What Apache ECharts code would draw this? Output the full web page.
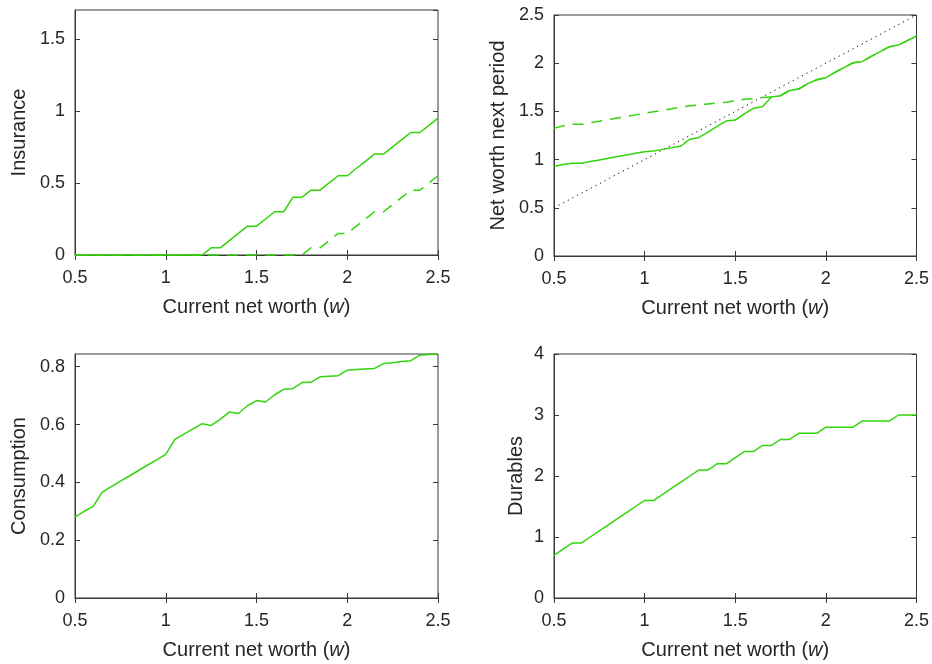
<!DOCTYPE html>
<html>
<head>
<meta charset="utf-8">
<script src="https://cdn.jsdelivr.net/npm/echarts@6/dist/echarts.min.js"></script>
<style>
  html, body { margin: 0; padding: 0; background: #ffffff; }
  #chart { width: 932px; height: 664px; }
</style>
</head>
<body>
<div id="chart"></div>
<script>
// Policy functions on a grid of current net worth w
const wealth = [0.50, 0.55, 0.60, 0.65, 0.70, 0.75, 0.80, 0.85, 0.90, 0.95,
                1.00, 1.05, 1.10, 1.15, 1.20, 1.25, 1.30, 1.35, 1.40, 1.45,
                1.50, 1.55, 1.60, 1.65, 1.70, 1.75, 1.80, 1.85, 1.90, 1.95,
                2.00, 2.05, 2.10, 2.15, 2.20, 2.25, 2.30, 2.35, 2.40, 2.45, 2.50];

const insuranceSolid = [0, 0, 0, 0, 0, 0, 0, 0, 0, 0,
                        0, 0, 0, 0, 0, 0.05, 0.05, 0.10, 0.15, 0.20,
                        0.20, 0.25, 0.30, 0.30, 0.40, 0.40, 0.45, 0.45, 0.50, 0.55,
                        0.55, 0.60, 0.65, 0.70, 0.70, 0.75, 0.80, 0.85, 0.85, 0.90, 0.95];
const insuranceDashed = [0, 0, 0, 0, 0, 0, 0, 0, 0, 0,
                         0, 0, 0, 0, 0, 0, 0, 0, 0, 0,
                         0, 0, 0, 0, 0, 0, 0.05, 0.05, 0.10, 0.15,
                         0.15, 0.20, 0.25, 0.30, 0.30, 0.35, 0.40, 0.45, 0.45, 0.50, 0.55];

const nextWorthSolid = [0.930, 0.950, 0.961, 0.963, 0.980, 0.997, 1.014, 1.031, 1.048, 1.065,
                        1.082, 1.089, 1.106, 1.123, 1.141, 1.212, 1.230, 1.285, 1.345, 1.400,
                        1.410, 1.475, 1.532, 1.549, 1.650, 1.663, 1.717, 1.732, 1.788, 1.828,
                        1.850, 1.905, 1.955, 2.005, 2.016, 2.070, 2.120, 2.171, 2.188, 2.235, 2.282];
const nextWorthDashed = [1.325, 1.350, 1.366, 1.366, 1.382, 1.398, 1.415, 1.431, 1.447, 1.464,
                         1.480, 1.496, 1.512, 1.528, 1.545, 1.558, 1.568, 1.578, 1.588, 1.595,
                         1.610, 1.625, 1.632, 1.645, 1.650, 1.663, 1.717, 1.732, 1.788, 1.828,
                         1.850, 1.905, 1.955, 2.005, 2.016, 2.070, 2.120, 2.171, 2.188, 2.235, 2.282];
const diagonalX = [0.5, 2.5];
const diagonalY = [0.5, 2.5];

const consumption = [0.280, 0.300, 0.317, 0.366, 0.385, 0.404, 0.422, 0.441, 0.460, 0.478,
                     0.497, 0.549, 0.567, 0.585, 0.603, 0.597, 0.618, 0.643, 0.638, 0.665,
                     0.683, 0.678, 0.703, 0.722, 0.724, 0.745, 0.746, 0.765, 0.767, 0.769,
                     0.788, 0.790, 0.792, 0.794, 0.811, 0.814, 0.818, 0.821, 0.840, 0.842, 0.844];

const durables = [0.7, 0.8, 0.9, 0.9, 1.0, 1.1, 1.2, 1.3, 1.4, 1.5,
                  1.6, 1.6, 1.7, 1.8, 1.9, 2.0, 2.1, 2.1, 2.2, 2.2,
                  2.3, 2.4, 2.4, 2.5, 2.5, 2.6, 2.6, 2.7, 2.7, 2.7,
                  2.8, 2.8, 2.8, 2.8, 2.9, 2.9, 2.9, 2.9, 3.0, 3.0, 3.0];

const xTitle = 'Current net worth ({it|w})';
const yTitles = ['Insurance', 'Net worth next period', 'Consumption', 'Durables'];

const FONT = '"Liberation Sans", Arial, Helvetica, sans-serif';
const INK = '#262626';
const FRAME = '#3a3a3a';
const GREEN = '#33d40c';

const pair = (xs, ys) => xs.map((x, i) => [x, ys[i]]);

const grids = [
  { left: 75,  top: 10,  width: 363, height: 245 },
  { left: 554, top: 15,  width: 363, height: 241 },
  { left: 75,  top: 354, width: 363, height: 244 },
  { left: 554, top: 354, width: 363, height: 244 }
];
const yRanges = [
  { min: 0, max: 1.7,   interval: 0.5 },
  { min: 0, max: 2.5,   interval: 0.5 },
  { min: 0, max: 0.844, interval: 0.2 },
  { min: 0, max: 4,     interval: 1 }
];
const yNameGaps = [46, 46, 46, 28];

const tickStyle = { inside: true, length: 5, lineStyle: { color: FRAME, width: 1 } };

const xAxes = [];
const yAxes = [];
grids.forEach((g, i) => {
  xAxes.push({
    gridIndex: i, type: 'value', min: 0.5, max: 2.5, interval: 0.5,
    position: 'bottom',
    axisLine: { show: true, onZero: false, lineStyle: { color: FRAME, width: 1 } },
    axisTick: tickStyle,
    splitLine: { show: false },
    axisLabel: { color: INK, fontSize: 18, fontFamily: FONT, margin: 14 },
    name: xTitle, nameLocation: 'middle', nameGap: 42,
    nameTextStyle: {
      color: INK, fontSize: 20, fontFamily: FONT,
      rich: { it: { fontStyle: 'italic', fontSize: 20, fontFamily: FONT, color: INK } }
    }
  });
  xAxes.push({
    gridIndex: i, type: 'value', min: 0.5, max: 2.5, interval: 0.5,
    position: 'top',
    axisLine: { show: false }, axisTick: tickStyle,
    axisLabel: { show: false }, splitLine: { show: false }
  });
  const r = yRanges[i];
  yAxes.push({
    gridIndex: i, type: 'value', min: r.min, max: r.max, interval: r.interval,
    position: 'left',
    axisLine: { show: true, onZero: false, lineStyle: { color: FRAME, width: 1 } },
    axisTick: tickStyle,
    splitLine: { show: false },
    axisLabel: { color: INK, fontSize: 18, fontFamily: FONT, margin: 10, showMaxLabel: r.max % r.interval === 0 },
    name: yTitles[i], nameLocation: 'middle', nameGap: yNameGaps[i],
    nameTextStyle: { color: INK, fontSize: 20, fontFamily: FONT }
  });
  yAxes.push({
    gridIndex: i, type: 'value', min: r.min, max: r.max, interval: r.interval,
    position: 'right',
    axisLine: { show: false }, axisTick: tickStyle,
    axisLabel: { show: false }, splitLine: { show: false }
  });
});

function lineSeries(gridIdx, data, dashed) {
  return {
    type: 'line', xAxisIndex: gridIdx * 2, yAxisIndex: gridIdx * 2,
    data: data, showSymbol: false, symbol: 'none', clip: false,
    animation: false,
    lineStyle: { color: GREEN, width: 1.5, type: dashed ? [11, 8] : 'solid' }
  };
}

const series = [
  lineSeries(0, pair(wealth, insuranceDashed), true),
  lineSeries(0, pair(wealth, insuranceSolid), false),
  {
    type: 'line', xAxisIndex: 2, yAxisIndex: 2,
    data: pair(diagonalX, diagonalY), showSymbol: false, symbol: 'none',
    animation: false,
    lineStyle: { color: '#000000', width: 1, type: [1.2, 4] }
  },
  lineSeries(1, pair(wealth, nextWorthDashed), true),
  lineSeries(1, pair(wealth, nextWorthSolid), false),
  lineSeries(2, pair(wealth, consumption), false),
  lineSeries(3, pair(wealth, durables), false)
];

const chart = echarts.init(document.getElementById('chart'), null, { renderer: 'canvas' });
chart.setOption({
  backgroundColor: '#ffffff',
  animation: false,
  grid: grids.map(g => Object.assign({ show: true, borderColor: FRAME, borderWidth: 1, backgroundColor: 'transparent' }, g)),
  xAxis: xAxes,
  yAxis: yAxes,
  series: series
});
</script>
</body>
</html>
